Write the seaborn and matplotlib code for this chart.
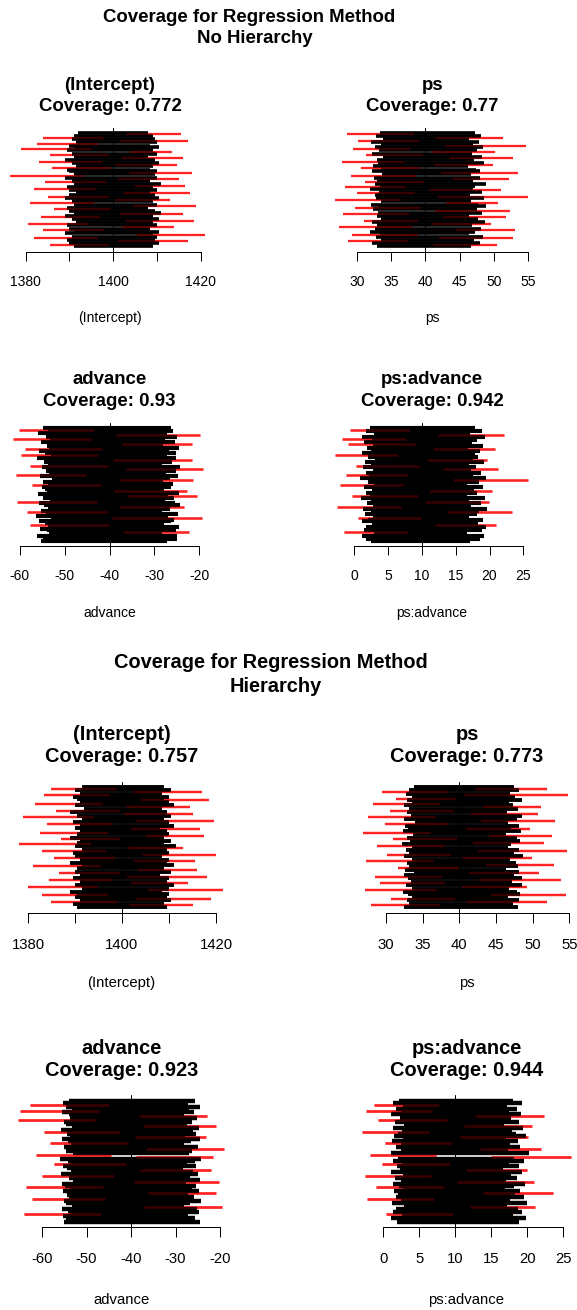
import matplotlib
matplotlib.use("Agg")
import matplotlib.pyplot as plt
import numpy as np
import pandas as pd
import seaborn as sns

# ---------------- interval bounds, one entry per simulation run (top row first) ----------------
# No hierarchy
int_lo_nh = [1392, 1403, 1391, 1384, 1390.5, 1401.5, 1391.5, 1382.5,
             1390, 1391, 1379, 1389.5, 1404, 1390.5, 1385.5, 1391,
             1402, 1389, 1383, 1390.5, 1400.5, 1391.5, 1386, 1389.5,
             1390, 1403.5, 1391, 1376.5, 1389, 1401, 1390.5, 1384.5,
             1391, 1405, 1389.5, 1382, 1390, 1391.5, 1402.5, 1390,
             1385, 1389, 1400.5, 1390.5, 1381, 1391, 1404.5, 1389.5,
             1386.5, 1390, 1391, 1401.5, 1389, 1383.5, 1390.5, 1403,
             1391.5, 1380.5, 1389.5, 1402, 1390, 1384, 1391, 1389,
             1405.5, 1390.5, 1382, 1389.5, 1401, 1390, 1385.5, 1391]
int_hi_nh = [1408, 1415.5, 1409, 1398, 1409.5, 1417, 1410, 1396.5,
             1408.5, 1410.5, 1395, 1409, 1413.5, 1410, 1399, 1408,
             1416, 1409.5, 1397.5, 1410.5, 1414.5, 1409, 1399.5, 1408.5,
             1410, 1418, 1409.5, 1393, 1410, 1415, 1408.5, 1398.5,
             1411, 1416.5, 1409, 1396, 1410, 1408.5, 1417.5, 1409.5,
             1399, 1410.5, 1413, 1409, 1395.5, 1410, 1419, 1408,
             1399.5, 1409.5, 1411, 1416, 1409, 1397, 1410.5, 1418.5,
             1409, 1394.5, 1410, 1414, 1408.5, 1398, 1410.5, 1409,
             1421, 1410, 1396.5, 1409.5, 1417, 1410.5, 1399, 1409]

ps_lo_nh = [33.4, 28.6, 32.8, 41.5, 33.9, 30.2, 32.1, 33.5,
            42.8, 32.6, 29.5, 33.2, 40.9, 32.3, 31.4, 33.8,
            43.6, 32.9, 27.9, 33.1, 41.2, 32.4, 30.6, 33.6,
            32.2, 42.3, 33.7, 29.1, 32.5, 44.1, 33.0, 31.2,
            32.7, 33.4, 28.3, 32.0, 40.6, 33.3, 30.0, 32.6,
            41.9, 32.8, 26.8, 33.5, 43.0, 32.1, 33.2, 29.7,
            32.4, 41.4, 33.1, 28.0, 32.9, 42.6, 33.6, 31.0,
            32.3, 40.8, 33.0, 27.4, 32.6, 44.5, 31.9, 33.4,
            29.3, 32.8, 42.0, 33.5, 28.7, 32.2, 41.1, 33.0]
ps_hi_nh = [47.2, 38.4, 48.1, 51.3, 46.4, 39.1, 47.8, 46.9,
            54.6, 48.4, 37.8, 47.5, 50.2, 46.8, 39.6, 48.3,
            52.8, 47.1, 36.9, 48.6, 49.8, 46.2, 39.2, 47.4,
            48.0, 53.5, 46.6, 38.7, 47.9, 52.2, 46.9, 39.8,
            48.8, 47.3, 37.2, 47.0, 51.0, 48.2, 38.5, 46.5,
            55.0, 48.5, 36.4, 46.7, 50.6, 47.6, 48.9, 39.4,
            47.5, 52.4, 48.3, 37.6, 46.3, 51.8, 47.7, 39.0,
            48.7, 49.5, 46.8, 38.1, 48.1, 53.0, 47.2, 46.4,
            38.9, 48.4, 52.7, 47.1, 37.5, 48.0, 50.4, 46.6]

adv_lo_nh = [-54.8, -60.2, -53.6, -55.9, -38.6, -54.1, -61.5, -53.2,
             -55.3, -37.2, -54.0, -53.4, -58.9, -55.6, -54.4, -59.8,
             -53.1, -56.2, -39.2, -54.6, -53.8, -57.7, -55.1, -36.4,
             -54.2, -53.5, -60.8, -55.4, -52.9, -37.7, -54.9, -53.7,
             -57.3, -55.0, -54.3, -38.9, -53.9, -56.0, -35.8, -54.7,
             -53.3, -60.6, -55.7, -54.5, -37.9, -53.6, -55.2, -58.4,
             -54.1, -56.4, -39.5, -53.0, -55.8, -54.3, -57.7, -53.8,
             -55.5, -54.0, -36.9, -53.4, -56.1, -54.8, -53.7, -55.3]
adv_hi_nh = [-26.4, -43.5, -25.8, -27.3, -19.8, -24.9, -44.1, -27.6,
             -25.5, -21.6, -28.1, -24.6, -41.7, -26.8, -25.3, -42.6,
             -27.1, -25.2, -21.6, -26.0, -28.3, -40.3, -24.3, -19.2,
             -25.1, -27.4, -45.2, -24.7, -26.6, -21.4, -28.0, -25.9,
             -41.9, -26.2, -27.8, -22.7, -24.5, -26.9, -20.6, -25.6,
             -27.7, -42.8, -25.4, -24.2, -23.4, -26.5, -28.2, -40.6,
             -24.8, -27.0, -19.4, -25.7, -26.3, -27.9, -40.2, -24.6,
             -26.1, -25.3, -22.3, -28.4, -24.9, -26.7, -25.0, -27.2]

psadv_lo_nh = [2.3, -0.6, 1.7, 2.9, 12.4, 1.2, -1.8, 2.6,
               1.5, -0.9, 2.8, 1.9, 11.6, 2.4, 1.1, -2.9,
               2.1, 3.0, 10.8, 1.6, 2.5, 0.2, 1.3, 13.1,
               2.7, 1.8, -1.2, 2.2, 0.9, 14.6, 2.0, 2.9,
               -2.1, 1.4, 2.6, 11.0, 1.7, 2.3, -0.4, 1.0,
               2.5, 10.4, 1.9, 2.8, -2.5, 1.3, 2.4, 13.7,
               1.6, 2.7, 0.5, 2.0, 1.2, 2.6, 11.9, 1.8,
               2.4, 1.5, -1.5, 2.9, 1.1, 2.2, 1.7, 2.5]
psadv_hi_nh = [17.8, 8.3, 18.9, 17.1, 22.2, 19.4, 7.6, 18.2,
               17.4, 9.1, 19.0, 16.8, 20.8, 18.6, 17.9, 6.5,
               18.3, 17.5, 19.6, 19.2, 16.9, 9.6, 18.0, 21.3,
               17.2, 18.8, 8.0, 17.6, 19.5, 25.7, 18.4, 16.7,
               7.2, 19.1, 17.7, 20.4, 18.1, 16.6, 9.4, 19.3,
               17.0, 19.9, 18.7, 17.3, 6.9, 19.7, 18.5, 23.4,
               18.2, 16.9, 9.8, 19.0, 17.6, 18.3, 21.0, 19.5,
               17.4, 18.9, 7.9, 16.7, 19.2, 17.8, 18.6, 17.1]

# Hierarchy
int_lo_h = [1391.5, 1385, 1390, 1402.5, 1391, 1383.5, 1389.5, 1390.5,
            1404, 1391, 1381.5, 1390, 1401, 1392, 1386, 1389,
            1400.5, 1390.5, 1379, 1391.5, 1403, 1389.5, 1384, 1391,
            1390, 1402, 1391, 1382.5, 1390.5, 1405, 1389, 1387,
            1391, 1390.5, 1378, 1390, 1401.5, 1391.5, 1383, 1389.5,
            1404.5, 1390, 1385.5, 1391, 1402.5, 1389, 1391.5, 1381,
            1390.5, 1403.5, 1390, 1386.5, 1391, 1401, 1389.5, 1384.5,
            1391, 1402, 1390, 1380, 1391.5, 1405.5, 1389, 1390.5,
            1383, 1390, 1403, 1391, 1385, 1389.5, 1401.5, 1390.5]
int_hi_h = [1409, 1399, 1410.5, 1417, 1408.5, 1397.5, 1410, 1409,
            1418.5, 1410, 1396, 1411, 1414.5, 1408.5, 1399.5, 1409.5,
            1415, 1410.5, 1394, 1409, 1419.5, 1410, 1398, 1411,
            1408, 1416.5, 1409.5, 1397, 1410, 1417.5, 1409, 1399.5,
            1410.5, 1409, 1393.5, 1411.5, 1413, 1409.5, 1396.5, 1410,
            1420, 1408.5, 1398.5, 1410, 1415.5, 1409.5, 1411, 1395.5,
            1409, 1416, 1410.5, 1399.5, 1408, 1418, 1410, 1398,
            1409.5, 1414, 1411, 1395, 1410, 1421.5, 1408.5, 1410,
            1397, 1409.5, 1419, 1410.5, 1399, 1409, 1415, 1409.5]

ps_lo_h = [33.8, 42.1, 33.2, 29.4, 32.7, 40.7, 33.5, 31.3,
           32.9, 33.6, 28.2, 32.4, 43.2, 33.1, 30.5, 32.8,
           41.6, 33.4, 27.6, 32.5, 42.9, 33.9, 29.8, 32.6,
           33.0, 40.9, 32.3, 26.9, 33.7, 44.0, 32.8, 30.9,
           33.3, 41.8, 32.2, 28.8, 33.6, 32.7, 42.5, 33.1,
           30.1, 32.4, 40.5, 33.5, 27.3, 32.9, 43.7, 33.2,
           31.6, 32.6, 33.8, 41.3, 32.5, 28.5, 33.0, 42.7,
           33.4, 29.2, 32.7, 40.4, 33.6, 27.1, 32.3, 33.0,
           44.3, 33.5, 30.7, 32.8, 41.0, 33.1, 28.0, 32.4]
ps_hi_h = [47.4, 52.0, 48.2, 38.3, 46.9, 54.8, 47.6, 39.5,
           48.5, 46.8, 37.4, 47.3, 51.2, 48.0, 39.3, 46.5,
           50.7, 48.6, 36.8, 47.9, 53.1, 46.7, 38.6, 48.1,
           47.0, 49.6, 48.4, 36.2, 46.4, 52.6, 47.8, 39.7,
           48.3, 51.5, 47.1, 37.9, 46.6, 48.2, 54.7, 47.5,
           38.8, 48.7, 49.9, 46.9, 36.5, 47.7, 52.9, 48.0,
           39.9, 46.4, 48.1, 50.8, 47.4, 37.7, 48.5, 53.8,
           47.2, 38.1, 48.6, 49.2, 46.8, 36.9, 47.9, 48.3,
           54.5, 46.6, 39.4, 48.2, 51.9, 47.3, 37.3, 48.0]

adv_lo_h = [-53.9, -55.2, -62.8, -54.5, -53.3, -64.9, -55.6, -54.0,
            -38.1, -53.6, -65.4, -55.0, -54.7, -37.4, -53.2, -55.8,
            -59.6, -54.3, -53.7, -39.0, -55.4, -54.1, -58.2, -53.5,
            -55.1, -36.7, -54.6, -53.0, -61.3, -38.8, -55.9, -54.2,
            -53.8, -57.4, -55.3, -54.4, -37.9, -53.4, -55.7, -60.1,
            -54.0, -53.1, -39.4, -55.5, -54.8, -63.6, -53.6, -55.2,
            -36.2, -54.3, -53.9, -62.2, -55.0, -54.6, -53.3, -37.0,
            -55.6, -54.1, -53.7, -64.0, -55.3, -54.5, -53.5, -55.0]
adv_hi_h = [-25.6, -27.2, -45.0, -24.4, -26.9, -47.3, -25.9, -28.0,
            -22.9, -25.1, -48.2, -26.3, -27.5, -20.8, -24.8, -26.0,
            -42.4, -25.4, -27.8, -23.2, -24.6, -26.6, -40.7, -28.2,
            -25.0, -19.0, -26.4, -27.0, -44.6, -21.5, -24.2, -25.7,
            -27.4, -41.1, -25.3, -28.4, -22.1, -26.1, -24.9, -43.8,
            -26.8, -24.5, -20.3, -27.7, -25.5, -46.2, -26.2, -24.7,
            -21.0, -27.3, -25.8, -45.9, -24.3, -26.7, -28.1, -19.6,
            -25.2, -26.9, -24.8, -46.8, -27.1, -25.6, -26.4, -24.4]

psadv_lo_h = [2.2, 1.4, -1.3, 2.7, 1.8, -2.4, 2.5, 1.1,
              12.8, 2.3, -0.7, 1.6, 2.9, 11.2, 1.3, 2.6,
              -3.0, 2.0, 1.5, 10.7, 2.8, 1.2, 0.3, 2.4,
              1.7, 13.4, 2.5, 1.0, -1.9, 14.9, 2.1, 1.4,
              2.6, -0.2, 1.9, 2.3, 11.5, 1.1, 2.7, -2.6,
              1.6, 2.4, 10.3, 1.3, 2.2, -1.0, 2.8, 1.5,
              13.9, 2.1, 1.7, -2.2, 2.5, 1.2, 2.9, 12.1,
              1.8, 2.3, 1.4, 0.4, 2.6, 1.0, 2.2, 1.9]
psadv_hi_h = [18.0, 19.3, 7.8, 17.2, 18.6, 6.7, 17.5, 19.1,
              22.3, 17.7, 8.9, 18.8, 16.8, 20.6, 19.4, 17.9,
              6.4, 18.4, 19.8, 20.1, 17.0, 18.7, 9.5, 17.6,
              19.0, 21.9, 17.3, 20.3, 7.3, 26.0, 18.2, 19.6,
              17.4, 9.2, 18.9, 16.6, 19.9, 19.2, 17.8, 6.6,
              18.5, 17.1, 20.9, 19.7, 18.1, 8.4, 16.9, 19.0,
              23.6, 18.3, 19.5, 7.0, 17.6, 20.0, 17.2, 21.1,
              18.7, 17.4, 19.3, 9.7, 18.0, 19.8, 17.5, 18.8]

# ---------------- labels, true values, axis ticks ----------------
terms = ["(Intercept)", "ps", "advance", "ps:advance"]
true_values = [1400, 40, -40, 10]
coverage_nh = [0.772, 0.77, 0.93, 0.942]
coverage_h = [0.757, 0.773, 0.923, 0.944]
block_titles = [("Coverage for Regression Method", "No Hierarchy"),
                ("Coverage for Regression Method", "Hierarchy")]
tick_values = [[1380, 1390, 1400, 1410, 1420],
               [30, 35, 40, 45, 50, 55],
               [-60, -50, -40, -30, -20],
               [0, 5, 10, 15, 20, 25]]
tick_labels = [["1380", "", "1400", "", "1420"],
               ["30", "35", "40", "45", "50", "55"],
               ["-60", "-50", "-40", "-30", "-20"],
               ["0", "5", "10", "15", "20", "25"]]

bounds_nh = [(int_lo_nh, int_hi_nh), (ps_lo_nh, ps_hi_nh),
             (adv_lo_nh, adv_hi_nh), (psadv_lo_nh, psadv_hi_nh)]
bounds_h = [(int_lo_h, int_hi_h), (ps_lo_h, ps_hi_h),
            (adv_lo_h, adv_hi_h), (psadv_lo_h, psadv_hi_h)]

# ---------------- page layout (pixels) ----------------
W, H = 577, 1310
sns.set_style("white")
plt.rcParams["font.family"] = ["Liberation Sans", "DejaVu Sans"]
fig = plt.figure(figsize=(W / 100, H / 100), dpi=100)
fig.patch.set_facecolor("white")
PT = 0.72  # points per pixel at 100 dpi

layouts = [
    dict(scale=0.935, head=[(249, 21.7), (254.5, 42.7)], width=210,
         rows=[dict(ax_top=128, band=(132, 247), axis=252, t=(89.5, 111), xlab=318),
               dict(ax_top=423, band=(427, 542), axis=546, t=(384, 405.5), xlab=613)],
         cx=[110, 432.5, 109.5, 432],
         anchors=[(25.7, 200.7), (356.7, 528.3), (19.7, 199.3), (354.3, 523.3)]),
    dict(scale=1.0, head=[(271, 668.3), (276, 691.7)], width=226,
         rows=[dict(ax_top=782, band=(786, 908), axis=913, t=(739.5, 762), xlab=983),
               dict(ax_top=1095, band=(1100, 1223), axis=1227, t=(1053.5, 1076), xlab=1300)],
         cx=[121.5, 467, 121.5, 466.5],
         anchors=[(28, 216), (386, 569.3), (42, 220), (383.3, 563.3)]),
]


def ftext(x, y, s, **kw):
    fig.text(x / W, 1 - y / H, s, color="black", **kw)


def draw_panel(lay, k, lo, hi, truth, term, cov):
    s = lay["scale"]
    row = lay["rows"][k // 2]
    cx = lay["cx"][k]
    left, right = cx - lay["width"] / 2, cx + lay["width"] / 2
    top, axis_y = row["ax_top"], row["axis"]
    ax = fig.add_axes([left / W, 1 - axis_y / H, (right - left) / W, (axis_y - top) / H])
    ax.set_facecolor("none")

    lo = np.asarray(lo, float)
    hi = np.asarray(hi, float)
    n = len(lo)
    sim = np.arange(n)
    df = pd.DataFrame({
        "sim": np.repeat(sim, 2),
        "x": np.column_stack([lo, hi]).ravel(),
        "y": np.repeat(n - 1 - sim, 2).astype(float),
        "covered": np.repeat((lo <= truth) & (hi >= truth), 2),
    })
    hit = df[df["covered"]]
    miss = df[~df["covered"]]

    b_top, b_bot = row["band"]
    sp = (b_bot - b_top) / n
    blk_lw = 2.3 * sp * PT
    red_lw = 1.4 * sp * PT

    common = dict(x="x", y="y", units="sim", estimator=None, sort=False,
                  legend=False, ax=ax, solid_capstyle="butt")
    # intervals missing the true value sit underneath, covering ones on top
    sns.lineplot(data=miss, color="#ff0000", lw=red_lw, alpha=0.82, zorder=2, **common)
    sns.lineplot(data=hit, color="black", lw=blk_lw, zorder=3, **common)
    sns.lineplot(data=miss, color="#ff0000", lw=red_lw, alpha=0.22, zorder=4, **common)
    ax.axvline(truth, color="black", lw=1.0 * PT, zorder=1)

    # x scale from the tick anchors
    ticks = tick_values[k]
    p0, p1 = lay["anchors"][k]
    slope = (ticks[-1] - ticks[0]) / (p1 - p0)
    ax.set_xlim(ticks[0] + (left - p0) * slope, ticks[0] + (right - p0) * slope)
    ax.set_ylim(-0.5 - (axis_y - b_bot) / sp, n - 0.5 + (b_top - top) / sp)

    ax.set_xlabel("")
    ax.set_ylabel("")
    ax.set_yticks([])
    ax.set_xticks(ticks)
    ax.set_xticklabels(tick_labels[k])
    sns.despine(ax=ax, left=True)
    ax.spines["bottom"].set_bounds(ticks[0], ticks[-1])
    ax.spines["bottom"].set_linewidth(1.0 * PT)
    ax.spines["bottom"].set_color("black")
    ax.tick_params(axis="x", bottom=True, direction="out", length=9.8 * s * PT,
                   width=1.0 * PT, color="black", labelcolor="black",
                   labelsize=10.7 * s, pad=11 * s)

    ftext(cx, row["t"][0], term, ha="center", va="baseline",
          fontsize=14.4 * s, fontweight="bold")
    ftext(cx, row["t"][1], f"Coverage: {cov:g}", ha="center", va="baseline",
          fontsize=14.4 * s, fontweight="bold")
    ftext(cx, row["xlab"], term, ha="center", va="center", fontsize=10.7 * s)


for lay, titles, bounds, covs in [(layouts[0], block_titles[0], bounds_nh, coverage_nh),
                                  (layouts[1], block_titles[1], bounds_h, coverage_h)]:
    s = lay["scale"]
    for (x, y), line in zip(lay["head"], titles):
        ftext(x, y, line, ha="center", va="baseline", fontsize=14.4 * s, fontweight="bold")
    for k in range(4):
        lo, hi = bounds[k]
        draw_panel(lay, k, lo, hi, true_values[k], terms[k], covs[k])

fig.savefig("out.png", dpi=100, facecolor="white")
